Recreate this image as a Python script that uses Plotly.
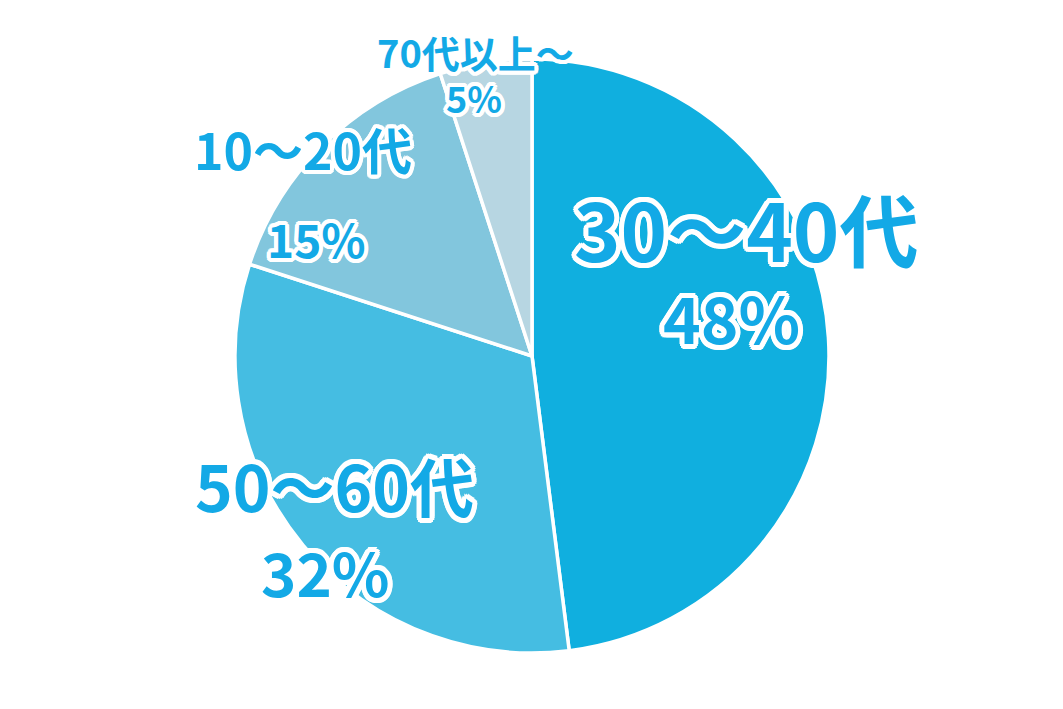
import math
import plotly.graph_objects as go

# age groups, clockwise from 12 o'clock
labels = ["30～40代", "50～60代", "10～20代", "70代以上～"]
values = [48, 32, 15, 5]
slice_colors = ["#10afdf", "#45bde2", "#82c6dd", "#b7d6e2"]

TEXT_BLUE = "#13a9e6"
FONT = "Noto Sans CJK JP"


def outline(w):
    # fake a white text stroke with a ring of shadows
    parts = []
    for k in range(16):
        a = 2 * math.pi * k / 16
        parts.append(f"{w * math.cos(a):.1f}px {w * math.sin(a):.1f}px 0 #ffffff")
    return ", ".join(parts)


# label placement (paper px centres) and font sizes, per slice: (name line, pct line)
label_pos = [
    ((738, 220, 79), (723, 308, 64)),
    ((326, 476, 64), (317, 562, 60)),
    ((295, 140, 50), (308, 230, 46)),
    ((467, 43, 38), (466, 89, 36)),
]
W, H = 1063, 709

fig = go.Figure(go.Pie(
    labels=labels, values=values, sort=False, direction="clockwise", rotation=0,
    marker=dict(colors=slice_colors, line=dict(color="#ffffff", width=3.5)),
    textinfo="none", hoverinfo="label+percent", showlegend=False,
    domain=dict(x=[227 / W, 821 / W], y=[(H - 645) / H, (H - 51) / H]),
))

for lab, val, (l1, l2) in zip(labels, values, label_pos):
    for txt, (px, py, size) in ((lab, l1), (f"{val}%", l2)):
        fig.add_annotation(
            x=px / W, y=1 - py / H, xref="paper", yref="paper",
            text=f"<b>{txt}</b>", showarrow=False, xanchor="center", yanchor="middle",
            font=dict(family=FONT, size=size, color=TEXT_BLUE,
                      shadow=outline(5 if size > 55 else 4)),
        )

fig.update_layout(width=W, height=H, margin=dict(l=0, r=0, t=0, b=0),
                  paper_bgcolor="#ffffff", plot_bgcolor="#ffffff")
fig.write_html("out.html")
